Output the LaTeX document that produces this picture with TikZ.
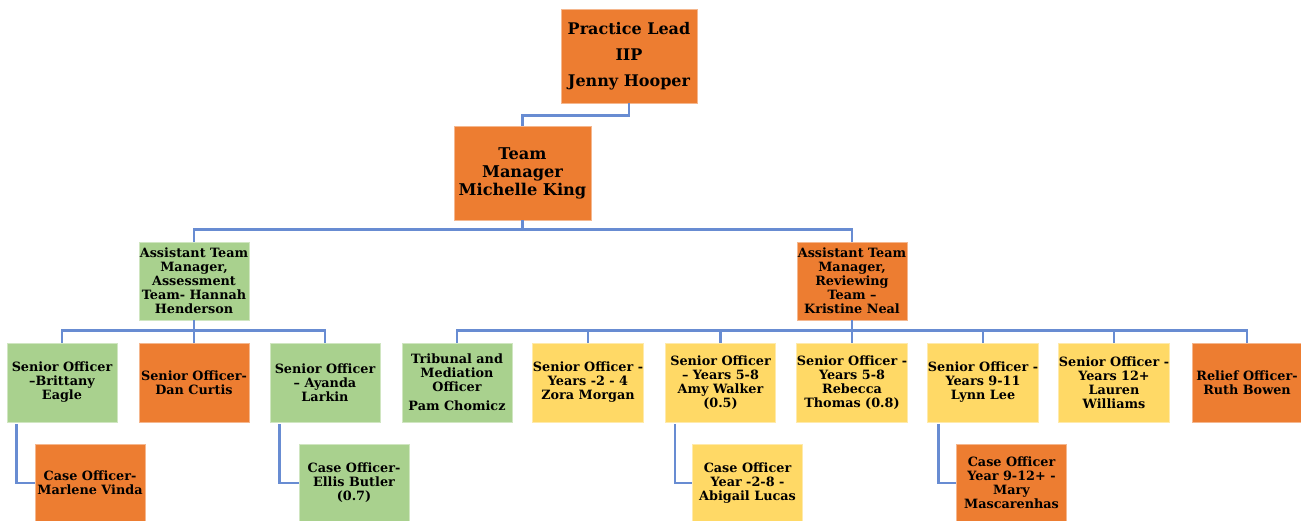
\documentclass[tikz,border=0pt]{standalone}
\usepackage{fontspec}
\setmainfont{DejaVu Serif}
\definecolor{boxorange}{RGB}{237,125,49}
\definecolor{boxgreen}{RGB}{169,209,142}
\definecolor{boxyellow}{RGB}{255,217,102}
\definecolor{linkblue}{RGB}{104,140,210}
\tikzset{
  card/.style={rectangle, fill=#1, draw=#1!55!white, line width=0.8pt,
    inner sep=0pt, align=center, font=\bfseries\fontsize{12.8}{14}\selectfont,
    minimum width=110pt, minimum height=79pt},
  link/.style={draw=linkblue, line width=2.4pt},
}
\begin{document}
\begin{tikzpicture}[x=1pt,y=-1pt]
  \useasboundingbox (0,0) rectangle (1301,520);

  % top
  \node[card=boxorange, minimum width=136pt, minimum height=94pt,
    font=\bfseries\fontsize{16}{26}\selectfont] (lead) at (629,56)
    {Practice Lead\\IIP\\Jenny Hooper};
  \node[card=boxorange, minimum width=137pt, minimum height=94pt,
    font=\bfseries\fontsize{16.2}{18}\selectfont] (mgr) at (522.5,173)
    {Team\\Manager\\Michelle King};

  % assistant team managers
  \node[card=boxgreen, minimum height=78pt] (atmA) at (194,281)
    {Assistant Team\\Manager,\\Assessment\\Team- Hannah\\Henderson};
  \node[card=boxorange, minimum height=78pt] (atmR) at (852,281)
    {Assistant Team\\Manager,\\Reviewing\\Team --\\Kristine Neal};

  % assessment team
  \node[card=boxgreen] (so1) at (62,382.5) {Senior Officer\\--Brittany\\Eagle};
  \node[card=boxorange] (so2) at (194,382.5) {Senior Officer-\\Dan Curtis};
  \node[card=boxgreen] (so3) at (325,382.5) {Senior Officer\\-- Ayanda\\Larkin};

  % reviewing team
  \node[card=boxgreen] (tmo) at (457,382.5)
    {Tribunal and\\Mediation\\Officer\\[5pt]Pam Chomicz};
  \node[card=boxyellow] (zora) at (588,382.5)
    {Senior Officer -\\Years -2 - 4\\Zora Morgan};
  \node[card=boxyellow] (amy) at (720.5,382.5)
    {Senior Officer\\-- Years 5-8\\Amy Walker\\(0.5)};
  \node[card=boxyellow] (rebecca) at (852,382.5)
    {Senior Officer -\\Years 5-8\\Rebecca\\Thomas (0.8)};
  \node[card=boxyellow] (lynn) at (983,382.5)
    {Senior Officer -\\Years 9-11\\Lynn Lee};
  \node[card=boxyellow] (lauren) at (1114,382.5)
    {Senior Officer -\\Years 12+\\Lauren\\Williams};
  \node[card=boxorange] (ruth) at (1247,382.5) {Relief Officer-\\Ruth Bowen};

  % case officers
  \node[card=boxorange, minimum height=78pt] (co1) at (90,483)
    {Case Officer-\\Marlene Vinda};
  \node[card=boxgreen, minimum height=78pt] (co2) at (354,483)
    {Case Officer-\\Ellis Butler\\(0.7)};
  \node[card=boxyellow, minimum height=78pt] (co3) at (747.5,483)
    {Case Officer\\Year -2-8 -\\Abigail Lucas};
  \node[card=boxorange, minimum height=78pt] (co4) at (1011.5,483)
    {Case Officer\\Year 9-12+ -\\Mary\\Mascarenhas};

  % connectors
  \draw[link] (lead.south) -- ++(0,12) -| (mgr.north);
  \foreach \t in {atmA,atmR}
    \draw[link] (mgr.south) -- ++(0,9) -| (\t.north);
  \foreach \t in {so1,so2,so3}
    \draw[link] (atmA.south) -- ++(0,10) -| (\t.north);
  \foreach \t in {tmo,zora,amy,rebecca,lynn,lauren,ruth}
    \draw[link] (atmR.south) -- ++(0,10) -| (\t.north);
  \draw[link] ([xshift=10pt,yshift=-2pt]so1.south west) |- (co1.west);
  \draw[link] ([xshift=10pt,yshift=-2pt]so3.south west) |- (co2.west);
  \draw[link] ([xshift=10pt,yshift=-2pt]amy.south west) |- (co3.west);
  \draw[link] ([xshift=11pt,yshift=-2pt]lynn.south west) |- (co4.west);
\end{tikzpicture}
\end{document}
